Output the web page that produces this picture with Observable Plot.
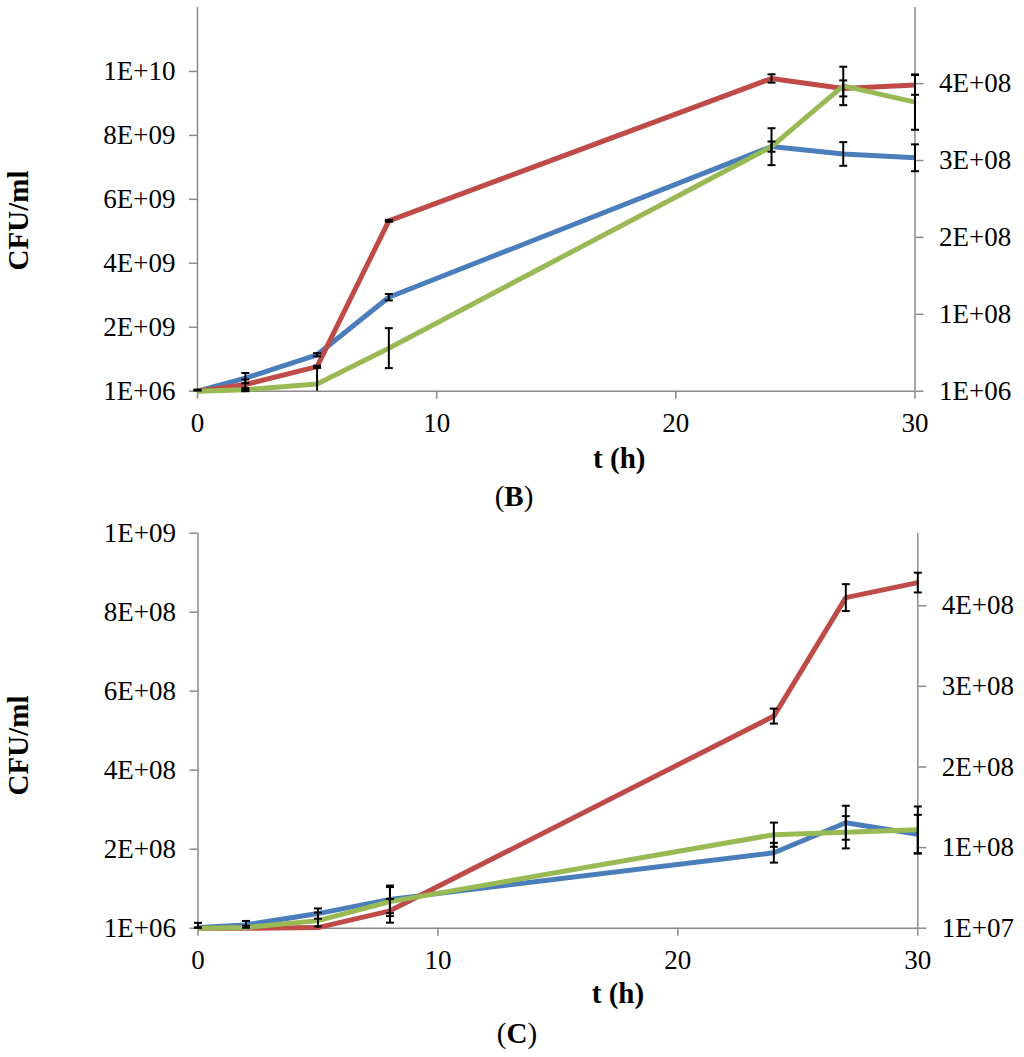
<!DOCTYPE html>
<html><head><meta charset="utf-8">
<script src="https://cdn.jsdelivr.net/npm/d3@7"></script>
<script src="https://cdn.jsdelivr.net/npm/@observablehq/plot@0.6"></script>
<style>
body{margin:0;background:#fff;}
#wrap{position:relative;width:1024px;height:1057px;overflow:hidden;font-family:"Liberation Serif","Times New Roman",serif;background:#fff;}
.panel{position:absolute;left:0;}
.panel text{font-family:"Liberation Serif","Times New Roman",serif;}
.cap{position:absolute;width:200px;text-align:center;font-size:29px;line-height:1;color:#000;}
</style></head><body><div id="wrap"></div>
<script>
// ---- data ----
const hours = [0, 2, 5, 8, 24, 27, 30];
const xTicks = [0, 10, 20, 30];

// Panel B (blue, red on left axis; green on right axis)
const bBlue = [1e6, 4.1e8, 1.14e9, 2.94e9, 7.65e9, 7.42e9, 7.30e9];
const bBlueErr = [5e7, 1.6e8, 5e7, 1e8, 1.6e8, 3.7e8, 4.2e8];
const bRed = [1e6, 2.1e8, 7.7e8, 5.33e9, 9.78e9, 9.47e9, 9.58e9];
const bRedErr = [3e7, 1.6e8, 3e7, 3e7, 1.3e8, 2.5e8, 3.1e8];
const bGreen = [1e6, 3e6, 1.04e7, 5.7e7, 3.19e8, 3.98e8, 3.77e8];
const bGreenErr = [1e6, 2e6, 2.1e7, 2.6e7, 2.4e7, 2.5e7, 3.6e7];
const bLeftDomain = [1e6, 1.2e10];
const bLeftTicks = [1e6, 2.001e9, 4.001e9, 6.001e9, 8.001e9, 1.0001e10];
const bRightDomain = [1e6, 5e8];
const bRightTicks = [1e6, 1.01e8, 2.01e8, 3.01e8, 4.01e8];

// Panel C
const cBlue = [2.5e6, 9.4e6, 3.8e7, 7.4e7, 1.92e8, 2.68e8, 2.39e8];
const cBlueErr = [1.2e7, 1e7, 1.3e7, 3.5e7, 2.5e7, 4.3e7, 4.9e7];
const cRed = [1e6, 1e6, 2.5e6, 4.5e7, 5.38e8, 8.38e8, 8.76e8];
const cRedErr = [1e6, 1e6, 3e6, 3e7, 1.9e7, 3.4e7, 2.5e7];
const cGreen = [1e7, 1.1e7, 1.94e7, 4.3e7, 1.26e8, 1.29e8, 1.32e8];
const cGreenErr = [1e6, 2e6, 1e7, 1.8e7, 1.5e7, 2e7, 2.9e7];
const cLeftDomain = [1e6, 1.001e9];
const cLeftTicks = [1e6, 2.01e8, 4.01e8, 6.01e8, 8.01e8, 1.001e9];
const cRightDomain = [1e7, 5e8];
const cRightTicks = [1e7, 1.1e8, 2.1e8, 3.1e8, 4.1e8];

const colors = {blue: "#4A7EBB", red: "#BE4B48", green: "#98B954"};
const axisGray = "#8a8a8a";
const FONT = "'Liberation Serif', 'Times New Roman', serif";

function fmt(v) {
  const [m, e] = v.toExponential(0).split("e");
  return m + "E" + e[0] + e.slice(1).padStart(2, "0");
}

const capSymbol = {draw(ctx, size) { const r = Math.sqrt(size / Math.PI); ctx.moveTo(-r, 0); ctx.lineTo(r, 0); }};

function rows(values, errs, name, conv, floor) {
  return hours.map((t, i) => {
    const lo = conv(values[i] - errs[i]);
    return {t, series: name, v: conv(values[i]), lo: Math.max(lo, floor), loShown: lo >= floor, hi: conv(values[i] + errs[i])};
  });
}

function panel(cfg) {
  const toLeft = d3.scaleLinear().domain(cfg.rightDomain).range(cfg.leftDomain);
  const id = v => v;
  const floor = cfg.leftDomain[0];
  const series = [
    rows(cfg.blue, cfg.blueErr, "blue", id, floor),
    rows(cfg.red, cfg.redErr, "red", id, floor),
    rows(cfg.green, cfg.greenErr, "green", toLeft, floor)
  ];
  const all = series.flat();
  const rightPos = cfg.rightTicks.map(v => toLeft(v));
  const rightLab = new Map(rightPos.map((p, i) => [p, fmt(cfg.rightTicks[i])]));
  const fy = (cfg.marginTop + (cfg.height - cfg.marginBottom)) / 2;
  return Plot.plot({
    width: 1024, height: cfg.height,
    marginLeft: cfg.marginLeft, marginRight: cfg.marginRight,
    marginTop: cfg.marginTop, marginBottom: cfg.marginBottom,
    style: {fontFamily: FONT, background: "transparent", overflow: "visible"},
    x: {domain: [0, 30]},
    y: {domain: cfg.leftDomain},
    marks: [
      Plot.ruleX([0, 30], {stroke: axisGray, strokeWidth: 1.5}),
      Plot.ruleY([cfg.leftDomain[0]], {stroke: axisGray, strokeWidth: 1.5}),
      Plot.axisY(cfg.leftTicks, {anchor: "left", tickFormat: fmt, tickSize: 8, tickPadding: 14,
        fontSize: 27, fontFamily: FONT, stroke: axisGray, strokeWidth: 1.5, fill: "black", label: null}),
      Plot.axisY(rightPos, {anchor: "right", tickFormat: d => rightLab.get(d), tickSize: 8, tickPadding: 16,
        fontSize: 27, fontFamily: FONT, stroke: axisGray, strokeWidth: 1.5, fill: "black", label: null}),
      Plot.axisX(xTicks, {anchor: "bottom", tickSize: 8, tickPadding: 14, fontSize: 27, fontFamily: FONT,
        stroke: axisGray, strokeWidth: 1.5, fill: "black", label: null}),
      ...series.map(s => Plot.line(s, {x: "t", y: "v", stroke: colors[s[0].series], strokeWidth: 5,
        strokeLinejoin: "round", strokeLinecap: "butt"})),
      Plot.ruleX(all, {x: "t", y1: "lo", y2: "hi", stroke: "black", strokeWidth: 2}),
      Plot.dot(all.filter(d => d.loShown), {x: "t", y: "lo", symbol: capSymbol, r: 4, stroke: "black", strokeWidth: 2, fill: "none"}),
      Plot.dot(all, {x: "t", y: "hi", symbol: capSymbol, r: 4, stroke: "black", strokeWidth: 2, fill: "none"}),
      Plot.text(["CFU/ml"], {text: d => d, frameAnchor: "left", dx: 18 - cfg.marginLeft, dy: cfg.yLabelCenter - fy,
        rotate: -90, fontSize: 29, fontWeight: "bold", fontFamily: FONT, fill: "black", textAnchor: "middle", lineAnchor: "middle"}),
      Plot.text(["t (h)"], {text: d => d, frameAnchor: "bottom", dx: cfg.xLabelDx, dy: cfg.xLabelDy,
        fontSize: 29, fontWeight: "bold", fontFamily: FONT, fill: "black", textAnchor: "middle", lineAnchor: "middle"})
    ]
  });
}

const wrap = document.getElementById("wrap");

const pB = panel({
  height: 515, marginLeft: 197, marginRight: 109.5, marginTop: 7, marginBottom: 124.3,
  leftDomain: bLeftDomain, leftTicks: bLeftTicks, rightDomain: bRightDomain, rightTicks: bRightTicks,
  blue: bBlue, blueErr: bBlueErr, red: bRed, redErr: bRedErr, green: bGreen, greenErr: bGreenErr,
  yLabelCenter: 220, xLabelDx: 63, xLabelDy: 68
});
pB.classList.add("panel"); pB.style.top = "0px";
wrap.appendChild(pB);

const pC = panel({
  height: 542, marginLeft: 197.5, marginRight: 106.7, marginTop: 17.7, marginBottom: 129.3,
  leftDomain: cLeftDomain, leftTicks: cLeftTicks, rightDomain: cRightDomain, rightTicks: cRightTicks,
  blue: cBlue, blueErr: cBlueErr, red: cRed, redErr: cRedErr, green: cGreen, greenErr: cGreenErr,
  yLabelCenter: 230, xLabelDx: 60, xLabelDy: 66
});
pC.classList.add("panel"); pC.style.top = "515px";
wrap.appendChild(pC);

const capB = document.createElement("div");
capB.className = "cap"; capB.style.left = "414px"; capB.style.top = "482px";
capB.innerHTML = "(<b>B</b>)";
wrap.appendChild(capB);
const capC = document.createElement("div");
capC.className = "cap"; capC.style.left = "417px"; capC.style.top = "1019px";
capC.innerHTML = "(<b>C</b>)";
wrap.appendChild(capC);
</script>
</body></html>
